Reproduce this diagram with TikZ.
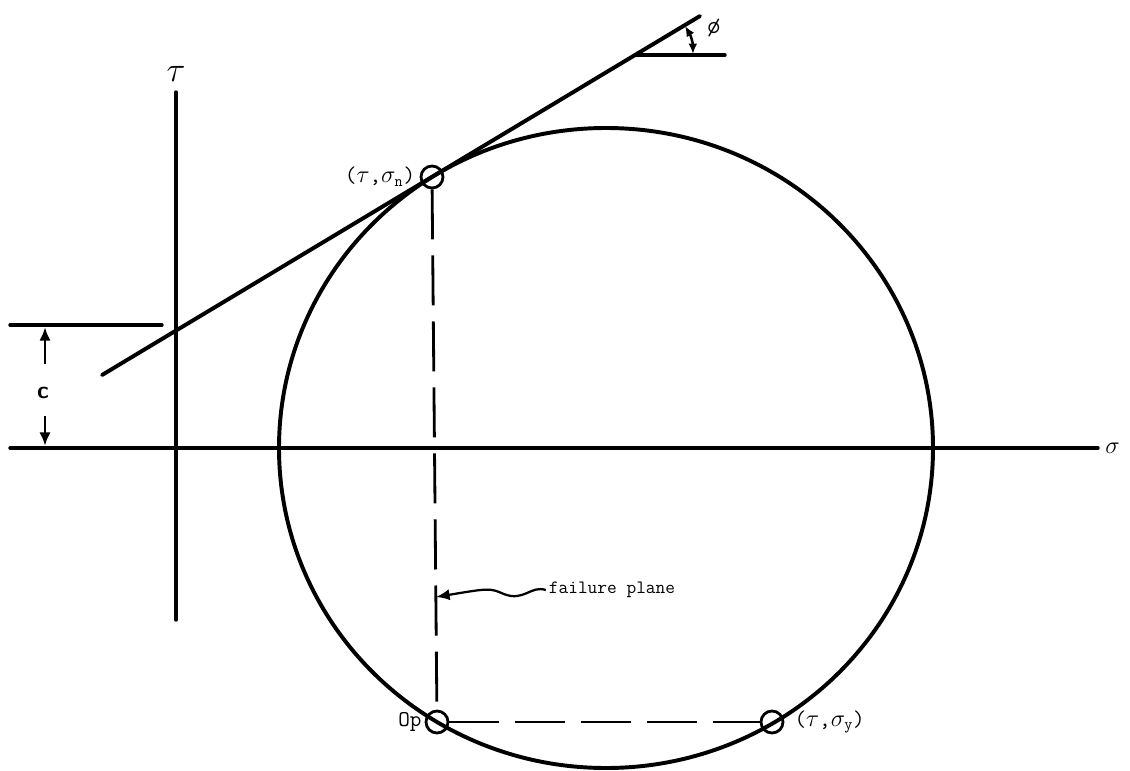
\documentclass[tikz,border=0pt]{standalone}
\usepackage{fontspec}
\usetikzlibrary{positioning,arrows.meta,calc}

\begin{document}
\begin{tikzpicture}[
  x=0.025cm, y=-0.025cm,
  font=\ttfamily\fontsize{16}{18}\selectfont,
  trazo/.style={line width=2.8pt, line cap=round},
  eje/.style={line width=2.4pt, line cap=round},
  discont/.style={line width=2pt, dash pattern=on 1.25cm off 0.4cm},
  marca/.style={draw, circle, line width=2pt, minimum size=0.55cm, inner sep=0pt},
  flecha/.style={-{Latex[length=3.4mm,width=2.8mm]}, line width=2pt},
  etiq/.style={inner sep=2pt},
  >=Latex]
\useasboundingbox (0,0) rectangle (1130,770);
% Ejes sigma y tau
\coordinate (sIzq) at (10,448);
\coordinate (sDer) at (1098,448);
\coordinate (tArr) at (176,92);
\coordinate (tAba) at (176,620);
\draw[eje] (sIzq) -- (sDer);
\draw[eje] (tArr) -- (tAba);
\node[etiq, right=3pt of sDer, font=\fontsize{18}{18}\selectfont] (sig) {$\sigma$};
\node[etiq, above=5pt of tArr, font=\fontsize{28}{28}\selectfont] (tau) {$\tau$};
% Circulo de Mohr
\coordinate (C) at (606,448);
\draw[trazo] (C) ellipse [x radius=327, y radius=320];
% Envolvente de falla
\coordinate (eA) at (102,375);
\coordinate (eB) at (700,16);
\draw[trazo] (eA) -- (eB);
% Puntos sobre el circulo y sus etiquetas
\node[marca] (pn) at (432,177) {};
\node[marca] (op) at (437,722) {};
\node[marca] (py) at (772,722) {};
\node[etiq, left=1pt of pn] (lpn) {($\tau$,$\sigma_{\mathtt{n}}$)};
\node[etiq, left=0pt of op] (lop) {Op};
\node[etiq, right=5pt of py] (lpy) {($\tau$,$\sigma_{\mathtt{y}}$)};
% Lineas discontinuas
\draw[discont] (pn) -- (op);
\draw[discont] (op) -- (py);
% Plano de falla
\node[etiq, font=\ttfamily\fontsize{13.4}{15}\selectfont] (falla) at (612,590) {failure plane};
\coordinate (fp) at (436,597);
\draw[flecha, line width=1.6pt] (falla.west)
  .. controls ($(falla.west)+(-15,-5)$) and ($(falla.west)+(-22,12)$) .. ($(falla.west)+(-42,4)$)
  .. controls ($(falla.west)+(-56,-2)$) .. (fp);
% Cohesion c
\coordinate (cIzq) at (10,325);
\coordinate (cDer) at (162,325);
\draw[eje] (cIzq) -- (cDer);
\node[font=\sffamily\bfseries\fontsize{17}{17}\selectfont] (c) at (43,393) {c};
\coordinate (cArr) at (45,327);
\coordinate (cAba) at (45,446);
\coordinate (cA) at (45,364);
\coordinate (cB) at (45,416);
\draw[flecha] (cA) -- (cArr);
\draw[flecha] (cB) -- (cAba);
% Angulo de friccion
\coordinate (phO) at (635,55);
\coordinate (phFin) at (725,55);
\draw[eje] (phO) -- (phFin);
\coordinate (phA) at (685,26);
\coordinate (phB) at (693,54);
\draw[{Latex[length=2.6mm,width=2.2mm]}-{Latex[length=2.6mm,width=2.2mm]}, line width=1.8pt] (phA) to[bend left=15] (phB);
\node[etiq, font=\ttfamily\fontsize{18}{18}\selectfont] (phi) at (714,28) {\o};
\end{tikzpicture}
\end{document}
